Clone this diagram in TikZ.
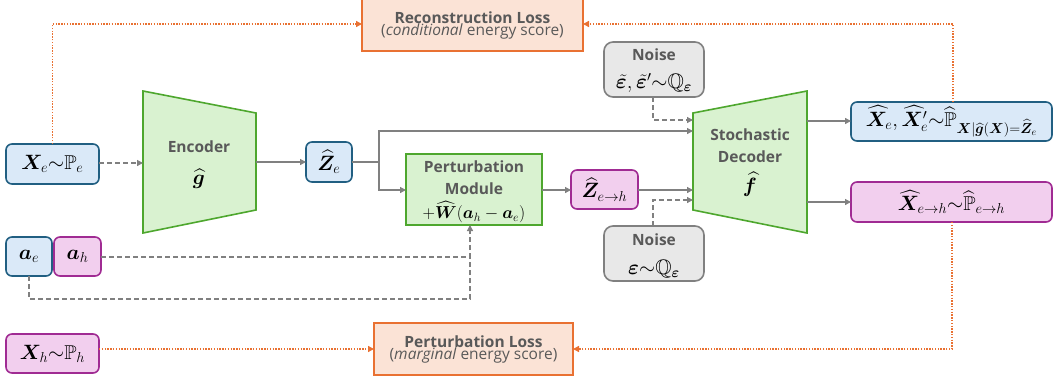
\documentclass[tikz,border=0pt]{standalone}
\usepackage{amsmath,amssymb,bm}
\usepackage{fontspec}
\setmainfont{Open Sans}
\usetikzlibrary{arrows.meta}
\definecolor{bfill}{HTML}{DAE9F8}
\definecolor{bline}{HTML}{215F82}
\definecolor{pfill}{HTML}{F2CFEE}
\definecolor{pline}{HTML}{A02B93}
\definecolor{gfill}{HTML}{D9F2D0}
\definecolor{gline}{HTML}{4EA72E}
\definecolor{ofill}{HTML}{FBE3D6}
\definecolor{oline}{HTML}{E97132}
\definecolor{nfill}{HTML}{E8E8E8}
\definecolor{nline}{HTML}{808080}
\definecolor{tgray}{HTML}{595959}
\definecolor{cgray}{HTML}{808080}
\begin{document}
\begin{tikzpicture}[x=1pt,y=-1pt,
  every node/.style={inner sep=0pt, outer sep=0pt, align=center},
  mbox/.style={draw, line width=1.6pt, rounded corners=6pt},
  bbox/.style={mbox, draw=bline, fill=bfill},
  pbox/.style={mbox, draw=pline, fill=pfill},
  nbox/.style={mbox, draw=nline, fill=nfill, rounded corners=9pt},
  obox/.style={draw=oline, fill=ofill, line width=1.6pt},
  gbox/.style={draw=gline, fill=gfill, line width=1.6pt},
  lab/.style={text=tgray, font=\fontsize{15.5}{18}\selectfont\bfseries},
  mth/.style={font=\fontsize{20}{22}\selectfont},
  conn/.style={draw=cgray, line width=1.3pt, -{Triangle[length=6pt,width=6pt]}},
  dconn/.style={conn, dash pattern=on 5pt off 3pt},
  oconn/.style={draw=oline, line width=1.4pt, dash pattern=on 1.4pt off 1.4pt, -{Triangle[length=6pt,width=6pt]}}
]
\useasboundingbox (0,0) rectangle (1058,381);

% loss boxes
\node[obox, minimum width=221pt, minimum height=52pt] (recon) at (472.5,25)
  {\fontsize{15.5}{21}\selectfont\color{tgray}\textbf{Reconstruction Loss}\\
   \fontsize{15.5}{21}\selectfont\color{tgray}(\textit{conditional} energy score)};
\node[obox, minimum width=199pt, minimum height=52pt] (ploss) at (473.5,349)
  {\fontsize{15.5}{21}\selectfont\color{tgray}\textbf{Perturbation Loss}\\
   \fontsize{15.5}{21}\selectfont\color{tgray}(\textit{marginal} energy score)};

% inputs
\node[bbox, minimum width=93pt, minimum height=40pt, mth] (Xe) at (52.5,164)
  {$\bm{X}_e{\sim}\mathbb{P}_e$};
\node[bbox, minimum width=46pt, minimum height=39pt, mth] (ae) at (29,256.5) {$\bm{a}_e$};
\node[pbox, minimum width=47pt, minimum height=39pt, mth] (ah) at (77.5,256.5) {$\bm{a}_h$};
\node[pbox, minimum width=93pt, minimum height=39pt, mth] (Xh) at (52.5,353.5)
  {$\bm{X}_h{\sim}\mathbb{P}_h$};

% encoder
\draw[gbox] (143,91) -- (256,113) -- (256,210) -- (143,233) -- cycle;
\coordinate (encw) at (143,163);
\coordinate (ence) at (256,162);
\node[lab] (enc) at (199,147) {Encoder};
\node[mth] (encg) at (199,179) {$\widehat{\bm{g}}$};

% latent
\node[bbox, minimum width=46pt, minimum height=40pt, mth] (Ze) at (329,162) {$\widehat{\bm{Z}}_e$};
\node[gbox, minimum width=136pt, minimum height=71pt] (pert) at (474,189.5) {};
\node[lab] (pertt) at (474,167) {Perturbation};
\node[lab] (pertm) at (474,189) {Module};
\node[font=\fontsize{17.5}{20}\selectfont] (pertf) at (474,212) {$+\widehat{\bm{W}}(\bm{a}_h-\bm{a}_e)$};
\node[pbox, minimum width=67pt, minimum height=39pt, mth] (Zeh) at (604.5,189.5) {$\widehat{\bm{Z}}_{e\to h}$};

% noise
\node[nbox, minimum width=100pt, minimum height=55pt] (n1) at (654,69.5) {};
\node[lab] (n1t) at (654,55) {Noise};
\node[font=\fontsize{21}{22}\selectfont] (n1f) at (654,83) {$\tilde{\bm{\varepsilon}}, \tilde{\bm{\varepsilon}}'{\sim}\mathbb{Q}_{\bm{\varepsilon}}$};
\node[nbox, minimum width=100pt, minimum height=55pt] (n2) at (654,253.5) {};
\node[lab] (n2t) at (654,240) {Noise};
\node[font=\fontsize{21}{22}\selectfont] (n2f) at (654,269) {$\bm{\varepsilon}{\sim}\mathbb{Q}_{\bm{\varepsilon}}$};

% decoder
\draw[gbox] (693,113) -- (807,91) -- (807,233) -- (693,210) -- cycle;
\node[lab] (dec1) at (750,135) {Stochastic};
\node[lab] (dec2) at (750,157) {Decoder};
\node[mth] (decf) at (750,184) {$\widehat{\bm{f}}$};
\coordinate (decwa) at (693,120);
\coordinate (decwb) at (693,131);
\coordinate (decwc) at (693,190);
\coordinate (decwd) at (693,200);
\coordinate (decea) at (807,121);
\coordinate (deceb) at (807,202);

% outputs
\node[bbox, minimum width=201pt, minimum height=39pt, font=\fontsize{20}{22}\selectfont] (Xo) at (951.5,121.5)
  {$\widehat{\bm{X}}_e, \widehat{\bm{X}}'_e{\sim}\widehat{\mathbb{P}}_{\bm{X}|\widehat{\bm{g}}(\bm{X})=\widehat{\bm{Z}}_e}$};
\node[pbox, minimum width=201pt, minimum height=40pt, mth] (Xho) at (951.5,202)
  {$\widehat{\bm{X}}_{e\to h}{\sim}\widehat{\mathbb{P}}_{e\to h}$};

% connectors
\coordinate (split) at (379,162);
\coordinate (ajoin) at (470,257);
\draw[dconn] (Xe.east |- encw) -- (encw);
\draw[conn] (ence) -- (Ze.west |- ence);
\draw[conn] (Ze.east) -- (split) |- (decwb);
\draw[conn] (split) |- (pert.west |- 0,190);
\draw[conn] (pert.east |- 0,190) -- (Zeh.west |- 0,190);
\draw[conn] (Zeh.east |- 0,190) -- (decwc);
\draw[dconn] (n1.south -| 653,0) |- (decwa);
\draw[dconn] (n2.north -| 653,0) |- (decwd);
\draw[conn] (decea) -- (Xo.west |- decea);
\draw[conn] (deceb) -- (Xho.west |- deceb);
\draw[dconn] (ah.east |- ajoin) -- (ajoin) -- (pert.south -| ajoin);
\draw[draw=cgray, line width=1.3pt, dash pattern=on 5pt off 3pt] (ae.south) -- (29,299) -| (ajoin);

% losses
\draw[oconn] (Xe.north) |- (recon.west |- 0,24);
\draw[oconn] (Xo.north -| 953,0) |- (recon.east |- 0,24);
\draw[oconn] (Xh.east |- 0,349) -- (ploss.west |- 0,349);
\draw[oconn] (Xho.south -| 952,0) |- (ploss.east |- 0,349);
\end{tikzpicture}
\end{document}
